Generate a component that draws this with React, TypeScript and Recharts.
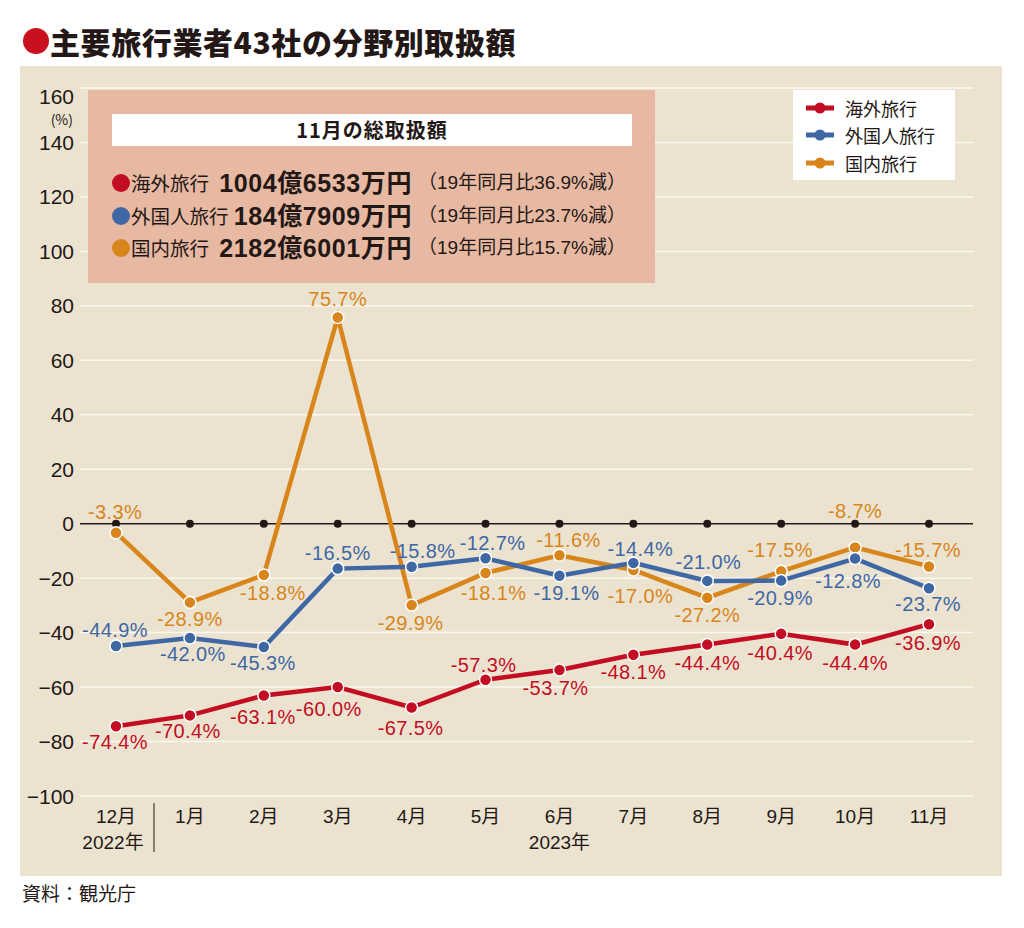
import React from "react";
import {
  CartesianGrid,
  LabelList,
  Line,
  LineChart,
  ReferenceDot,
  ReferenceLine,
  XAxis,
  YAxis,
} from "recharts";

const MONTHS = ["12月", "1月", "2月", "3月", "4月", "5月", "6月", "7月", "8月", "9月", "10月", "11月"];
const OVERSEAS = [-74.4, -70.4, -63.1, -60.0, -67.5, -57.3, -53.7, -48.1, -44.4, -40.4, -44.4, -36.9];
const INBOUND = [-44.9, -42.0, -45.3, -16.5, -15.8, -12.7, -19.1, -14.4, -21.0, -20.9, -12.8, -23.7];
const DOMESTIC = [-3.3, -28.9, -18.8, 75.7, -29.9, -18.1, -11.6, -17.0, -27.2, -17.5, -8.7, -15.7];
const Y_TICKS = [160, 140, 120, 100, 80, 60, 40, 20, 0, -20, -40, -60, -80, -100];

const SUMMARY = [
  { name: "海外旅行", amount: "1004億6533万円", note: "（19年同月比36.9%減）" },
  { name: "外国人旅行", amount: "184億7909万円", note: "（19年同月比23.7%減）" },
  { name: "国内旅行", amount: "2182億6001万円", note: "（19年同月比15.7%減）" },
];

// label nudges [dx, dy] from each point, so labels clear the other lines
const OVERSEAS_NUDGE = [[-1, 16], [-2, 16], [-1, 21], [-9, 22], [-1, 20], [-2, -15], [-4, 18], [0, 17], [0, 18], [-1, 19], [0, 18], [-1, 19]];
const INBOUND_NUDGE = [[-1, -16], [3, 16], [-1, 16], [0, -16], [11, -16], [7, -15], [7, 17], [7, -14], [1, -19], [-1, 17], [-7, 22], [-1, 16]];
const DOMESTIC_NUDGE = [[-1, -21], [0, 17], [9, 18], [0, -19], [-1, 18], [8, 20], [9, -15], [7, 26], [0, 17], [-1, -21], [0, -36], [-1, -16]];

const RED = "#c30d23";
const BLUE = "#3e67a4";
const ORANGE = "#d8861b";
const INK = "#231815";
const PANEL = "#ebe3d0";
const JP = '"Noto Sans CJK JP", sans-serif';
const NUM = '"Liberation Sans", "Noto Sans CJK JP", sans-serif';

const data = MONTHS.map((m, i) => ({
  month: m,
  overseas: OVERSEAS[i],
  inbound: INBOUND[i],
  domestic: DOMESTIC[i],
}));

const fmt = (v: number) => `${v.toFixed(1)}%`;

function makeLabel(color: string, nudge: number[][]) {
  return (props: any) => {
    const { x, y, value, index } = props;
    const [dx, dy] = nudge[index] || [0, -16];
    return (
      <text
        x={x + dx}
        y={y + dy}
        textAnchor="middle"
        dominantBaseline="central"
        fontFamily={NUM}
        fontSize={20}
        letterSpacing={0.4}
        fill={color}
      >
        {fmt(value)}
      </text>
    );
  };
}

function YTick(props: any) {
  const { x, y, payload } = props;
  const v = payload.value as number;
  const label = v < 0 ? `−${Math.abs(v)}` : `${v}`;
  if (v === 160) {
    return (
      <g>
        <text x={x} y={y + 8} textAnchor="end" dominantBaseline="central" fontFamily={NUM} fontSize={21} fill={INK}>
          {label}
        </text>
        <text x={x - 1} y={y + 31} textAnchor="end" dominantBaseline="central" fontFamily={JP} fontSize={14} fill={INK}>
          (%)
        </text>
      </g>
    );
  }
  return (
    <text x={x} y={y} textAnchor="end" dominantBaseline="central" fontFamily={NUM} fontSize={21} fill={INK}>
      {label}
    </text>
  );
}

function XTick(props: any) {
  const { x, y, payload, index } = props;
  return (
    <g>
      <text x={x} y={y + 20} textAnchor="middle" dominantBaseline="central" fontFamily={NUM} fontSize={19} fill={INK}>
        {payload.value}
      </text>
      {index === 0 && (
        <>
          <text x={x - 3} y={y + 46} textAnchor="middle" dominantBaseline="central" fontFamily={NUM} fontSize={19} fill={INK}>
            2022年
          </text>
          <line x1={x + 38} x2={x + 38} y1={y + 7} y2={y + 56} stroke={INK} strokeWidth={1} />
        </>
      )}
      {index === 6 && (
        <text x={x} y={y + 46} textAnchor="middle" dominantBaseline="central" fontFamily={NUM} fontSize={19} fill={INK}>
          2023年
        </text>
      )}
    </g>
  );
}

const dotStyle = (color: string) => ({ r: 6, fill: color, stroke: "#fff", strokeWidth: 1.5 });

function LegendIcon({ color }: { color: string }) {
  return (
    <svg width={30} height={12} style={{ marginRight: 10 }}>
      <line x1={1} x2={12} y1={6} y2={6} stroke={color} strokeWidth={5} />
      <line x1={18} x2={29} y1={6} y2={6} stroke={color} strokeWidth={5} />
      <circle cx={15} cy={6} r={5.5} fill={color} />
    </svg>
  );
}

export default function App() {
  const colors = [RED, BLUE, ORANGE];
  return (
    <div style={{ position: "absolute", left: 0, top: 0, width: 1024, height: 928, background: "#fff", overflow: "hidden" }}>
      {/* title */}
      <div style={{ position: "absolute", left: 23, top: 28, width: 26, height: 26, borderRadius: "50%", background: "#c8101f" }} />
      <div
        style={{
          position: "absolute",
          left: 50,
          top: 21,
          fontFamily: JP,
          fontWeight: 900,
          fontSize: 30,
          lineHeight: "40px",
          color: INK,
          letterSpacing: 0.6,
          whiteSpace: "nowrap",
        }}
      >
        主要旅行業者43社の分野別取扱額
      </div>

      <div style={{ position: "absolute", left: 20, top: 66, width: 982, height: 810, background: PANEL }}>
        <LineChart width={982} height={810} data={data} margin={{ top: 22, right: 29, bottom: 0, left: 0 }}>
          <CartesianGrid horizontal vertical={false} stroke="#fbf8f0" strokeWidth={1.5} />
          <XAxis
            dataKey="month"
            axisLine={false}
            tickLine={false}
            tickSize={0}
            tickMargin={0}
            height={80}
            interval={0}
            padding={{ left: 36, right: 44 }}
            tick={<XTick />}
          />
          <YAxis
            type="number"
            domain={[-100, 160]}
            ticks={Y_TICKS}
            interval={0}
            axisLine={false}
            tickLine={false}
            tickSize={0}
            tickMargin={6}
            width={60}
            tick={<YTick />}
          />
          <ReferenceLine y={0} stroke={INK} strokeWidth={1.6} />
          {MONTHS.map((m) => (
            <ReferenceDot key={m} x={m} y={0} r={4} fill={INK} stroke="none" ifOverflow="visible" />
          ))}
          <Line
            dataKey="domestic"
            stroke={ORANGE}
            strokeWidth={4.5}
            dot={dotStyle(ORANGE)}
            activeDot={false}
            isAnimationActive={false}
          >
            <LabelList dataKey="domestic" content={makeLabel(ORANGE, DOMESTIC_NUDGE)} />
          </Line>
          <Line
            dataKey="inbound"
            stroke={BLUE}
            strokeWidth={4.5}
            dot={dotStyle(BLUE)}
            activeDot={false}
            isAnimationActive={false}
          >
            <LabelList dataKey="inbound" content={makeLabel(BLUE, INBOUND_NUDGE)} />
          </Line>
          <Line
            dataKey="overseas"
            stroke={RED}
            strokeWidth={4.5}
            dot={dotStyle(RED)}
            activeDot={false}
            isAnimationActive={false}
          >
            <LabelList dataKey="overseas" content={makeLabel(RED, OVERSEAS_NUDGE)} />
          </Line>
        </LineChart>

        {/* summary box */}
        <div style={{ position: "absolute", left: 68, top: 24, width: 567, height: 193, background: "#e8b9a2" }}>
          <div
            style={{
              position: "absolute",
              left: 24,
              top: 24,
              width: 520,
              height: 32,
              background: "#fff",
              textAlign: "center",
              fontFamily: JP,
              fontWeight: 700,
              fontSize: 20,
              lineHeight: "32px",
              color: INK,
              letterSpacing: 1,
            }}
          >
            11月の総取扱額
          </div>
          {SUMMARY.map((s, i) => (
            <div key={s.name} style={{ position: "absolute", left: 0, top: 77 + i * 32.5, width: 567, height: 32, color: INK }}>
              <div style={{ position: "absolute", left: 24, top: 7, width: 18, height: 18, borderRadius: "50%", background: colors[i] }} />
              <div style={{ position: "absolute", left: 43, top: 0, fontFamily: JP, fontSize: 19.5, lineHeight: "32px" }}>{s.name}</div>
              <div
                style={{
                  position: "absolute",
                  right: 243,
                  top: 0,
                  fontFamily: NUM,
                  fontWeight: 700,
                  fontSize: 25,
                  lineHeight: "32px",
                  letterSpacing: 0.6,
                  whiteSpace: "nowrap",
                }}
              >
                {s.amount}
              </div>
              <div style={{ position: "absolute", left: 330, top: 0, fontFamily: NUM, fontSize: 19, lineHeight: "32px", whiteSpace: "nowrap" }}>
                {s.note}
              </div>
            </div>
          ))}
        </div>

        {/* legend */}
        <div style={{ position: "absolute", left: 773, top: 24, width: 162, height: 90, background: "#fff" }}>
          {SUMMARY.map((s, i) => (
            <div
              key={s.name}
              style={{
                position: "absolute",
                left: 12,
                top: 4 + i * 27.5,
                height: 27,
                display: "flex",
                alignItems: "center",
                fontFamily: JP,
                fontSize: 18,
                color: INK,
              }}
            >
              <LegendIcon color={colors[i]} />
              {s.name}
            </div>
          ))}
        </div>
      </div>

      <div style={{ position: "absolute", left: 22, top: 880, fontFamily: JP, fontSize: 19, lineHeight: "26px", color: INK }}>
        資料：観光庁
      </div>
    </div>
  );
}
